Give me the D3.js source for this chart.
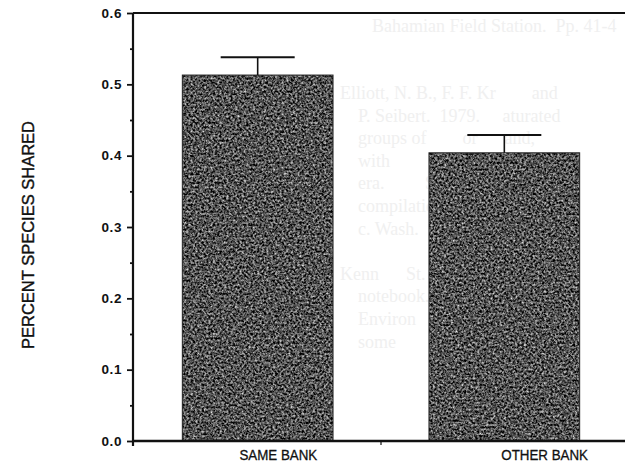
<!DOCTYPE html>
<html>
<head>
<meta charset="utf-8">
<script src="https://cdn.jsdelivr.net/npm/d3@7"></script>
<style>
  body { margin: 0; background: #fff; }
  svg { display: block; }
  .tick text { font-family: "Liberation Sans", Arial, sans-serif; }
</style>
</head>
<body>
<div id="chart"></div>
<script>
// data
var categories = ["SAME BANK", "OTHER BANK"];
var values = [0.513, 0.404];
var errors = [0.025, 0.025];
var yTicks = [0.0, 0.1, 0.2, 0.3, 0.4, 0.5, 0.6];
var yMinorTicks = [0.05, 0.15, 0.25, 0.35, 0.45, 0.55];
// faint print-through from the reverse page of the scan
var ghostLines = [
  "Bahamian Field Station.  Pp. 41-4",
  "Elliott, N. B., F. F. Kr        and",
  "    P. Seibert.  1979.     aturated",
  "    groups of        or      and,",
  "    with          L. Perry",
  "    era.         Scillidae;",
  "    compilation     ).  Proc.",
  "    c. Wash.        3.",
  "",
  "Kenn      St. C. F     d F. Sainn.",
  "    notebook.        e Geology",
  "    Environ           Seeking",
  "    some        ommers.  Ind"
];

var width = 625, height = 473;
var svg = d3.select("#chart").append("svg")
    .attr("width", width)
    .attr("height", height);

var defs = svg.append("defs");
var grain = defs.append("filter")
    .attr("id", "grain")
    .attr("color-interpolation-filters", "sRGB")
    .attr("x", 0).attr("y", 0).attr("width", 1).attr("height", 1);
grain.append("feTurbulence")
    .attr("type", "fractalNoise")
    .attr("baseFrequency", 0.45)
    .attr("numOctaves", 3)
    .attr("seed", 7)
    .attr("result", "noise");
grain.append("feColorMatrix")
    .attr("in", "noise")
    .attr("type", "matrix")
    .attr("values", "1.4 0 0 0 -0.38  1.4 0 0 0 -0.38  1.4 0 0 0 -0.38  0 0 0 0 1")
    .attr("result", "gray");
grain.append("feComposite")
    .attr("in", "gray")
    .attr("in2", "SourceGraphic")
    .attr("operator", "in");

// ghost text behind everything
var ghost = svg.append("g")
    .attr("font-family", "'Liberation Serif', 'DejaVu Serif', serif")
    .attr("font-size", 18)
    .attr("fill", "#f0f0f0");
ghost.selectAll("text")
  .data(ghostLines)
  .enter().append("text")
    .attr("x", function(d, i) { return i == 0 ? 372 : 340; })
    .attr("y", function(d, i) { return i == 0 ? 32 : 99 + (i - 1) * 22.6; })
    .attr("xml:space", "preserve")
    .text(function(d) { return d; });

var margin = { left: 133, top: 13, bottom: 441 };

var y = d3.scaleLinear()
    .domain([0, 0.6])
    .range([margin.bottom, margin.top]);

var x = d3.scaleBand()
    .domain(categories)
    .range([margin.left, 629])
    .paddingInner(0.389)
    .paddingOuter(0.2);

var g = svg.append("g");

// bars
g.selectAll(".bar")
  .data(values)
  .enter().append("rect")
    .attr("class", "bar")
    .attr("x", function(d, i) { return x(categories[i]); })
    .attr("y", function(d) { return y(d); })
    .attr("width", x.bandwidth())
    .attr("height", function(d) { return y(0) - y(d); })
    .attr("fill", "#444")
    .attr("filter", "url(#grain)");
g.selectAll(".bar_edge")
  .data(values)
  .enter().append("rect")
    .attr("class", "bar_edge")
    .attr("x", function(d, i) { return x(categories[i]); })
    .attr("y", function(d) { return y(d); })
    .attr("width", x.bandwidth())
    .attr("height", function(d) { return y(0) - y(d); })
    .attr("fill", "none")
    .attr("stroke", "#222")
    .attr("stroke-width", 1);

// error bars (upper only)
var capHalf = 37;
var err = g.selectAll(".err")
  .data(values)
  .enter().append("g")
    .attr("class", "err")
    .attr("stroke", "#111");
err.append("line")
    .attr("x1", function(d, i) { return x(categories[i]) + x.bandwidth() / 2; })
    .attr("x2", function(d, i) { return x(categories[i]) + x.bandwidth() / 2; })
    .attr("y1", function(d) { return y(d); })
    .attr("y2", function(d, i) { return y(d + errors[i]); })
    .attr("stroke-width", 1.6);
err.append("line")
    .attr("x1", function(d, i) { return x(categories[i]) + x.bandwidth() / 2 - capHalf; })
    .attr("x2", function(d, i) { return x(categories[i]) + x.bandwidth() / 2 + capHalf; })
    .attr("y1", function(d, i) { return y(d + errors[i]); })
    .attr("y2", function(d, i) { return y(d + errors[i]); })
    .attr("stroke-width", 2.2);

// top frame line
g.append("line")
    .attr("x1", margin.left).attr("x2", width)
    .attr("y1", y(0.6)).attr("y2", y(0.6))
    .attr("stroke", "#111")
    .attr("stroke-width", 2);

// bottom axis
var xAxis = g.append("g")
    .attr("transform", "translate(0," + y(0) + ")")
    .call(d3.axisBottom(x).tickSize(0).tickPadding(9));
xAxis.select(".domain")
    .attr("d", "M" + margin.left + ",0H" + width)
    .attr("stroke", "#111")
    .attr("stroke-width", 2.6);
xAxis.selectAll(".tick text")
    .attr("font-size", 14.5)
    .attr("fill", "#111")
    .attr("stroke", "#111")
    .attr("stroke-width", 0.3)
    .attr("dy", "0.71em")
    .attr("transform", "scale(0.92,1)")
    .attr("x", function(d) { return (x(d) + x.bandwidth() / 2) / 0.92 - (x(d) + x.bandwidth() / 2); });
// small tick between the two categories
g.append("line")
    .attr("x1", x(categories[1]) - x.step() * x.paddingInner() / 2)
    .attr("x2", x(categories[1]) - x.step() * x.paddingInner() / 2)
    .attr("y1", y(0)).attr("y2", y(0) + 4)
    .attr("stroke", "#111")
    .attr("stroke-width", 1.2);

// left axis
var yAxis = g.append("g")
    .attr("transform", "translate(" + margin.left + ",0)")
    .call(d3.axisLeft(y).tickValues(yTicks).tickSize(6).tickPadding(5).tickFormat(d3.format(".1f")));
yAxis.select(".domain")
    .attr("d", "M0," + y(0.6) + "V" + (y(0) + 5))
    .attr("stroke", "#111")
    .attr("stroke-width", 2.2);
yAxis.selectAll(".tick line").attr("stroke", "#111").attr("stroke-width", 1.8);
yAxis.selectAll(".tick text")
    .attr("font-size", 13.5)
    .attr("font-weight", "bold")
    .attr("letter-spacing", 0.6)
    .attr("fill", "#111");

var yMinor = g.append("g")
    .attr("transform", "translate(" + margin.left + ",0)")
    .call(d3.axisLeft(y).tickValues(yMinorTicks).tickSize(3).tickFormat(""));
yMinor.select(".domain").remove();
yMinor.selectAll(".tick line").attr("stroke", "#111").attr("stroke-width", 1.8);

// y title
svg.append("text")
    .attr("transform", "translate(34," + ((y(0) + y(0.6)) / 2 + 8) + ")rotate(-90)")
    .attr("text-anchor", "middle")
    .attr("font-family", "'Liberation Sans', Arial, sans-serif")
    .attr("font-size", 16.5)
    .attr("fill", "#111")
    .attr("stroke", "#111")
    .attr("stroke-width", 0.4)
    .text("PERCENT SPECIES SHARED");
</script>
</body>
</html>
